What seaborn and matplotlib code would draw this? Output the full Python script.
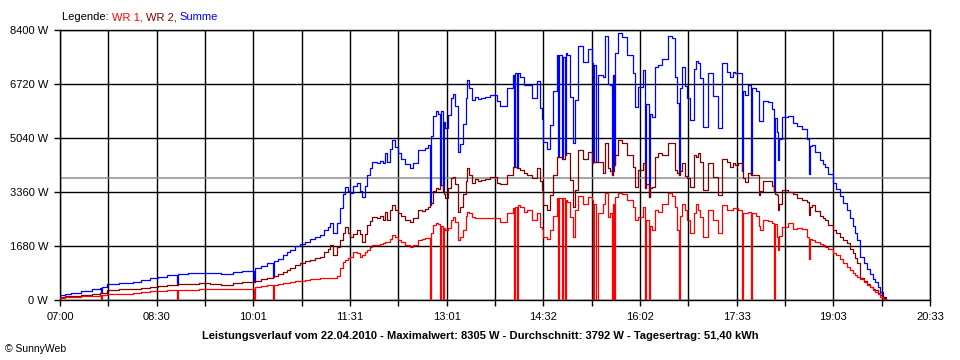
import matplotlib
matplotlib.use("Agg")
import matplotlib.pyplot as plt
import numpy as np
import pandas as pd
import seaborn as sns

# ---------------- data (minutes after 07:00, power in W) ----------------
minutes = [0, 5, 10, 20, 30, 37, 38, 39, 44, 55, 68, 76, 84, 92, 100, 109, 110, 120,
           130, 140, 150, 162, 170, 180, 181, 182, 188, 193, 199, 200, 204, 208, 212,
           215, 220, 224, 229, 234, 238, 243, 247, 250, 252, 255, 259,
           262, 264, 266, 269, 271, 274, 278, 280, 282, 285, 287, 290, 292, 296, 299,
           302, 304, 306, 308, 310, 313, 316, 319, 322, 327, 330, 335, 338, 341, 344,
           346, 347, 349, 351, 353, 355, 356, 358, 359, 360, 363, 365, 367, 369, 372,
           374, 377, 379, 380, 382, 385, 388, 391, 393, 397, 402, 408, 411, 418, 423,
           424, 425, 427, 428, 430, 434, 436, 441, 446, 449, 450, 451, 455, 458, 461,
           464, 465, 466, 469, 470, 472, 473, 474, 477, 479, 481, 484, 489, 493, 497,
           498, 499, 501, 503, 507, 509, 512, 514, 516, 517, 518, 519, 521, 525, 530,
           535, 537, 540, 545, 547, 548, 550, 551, 553, 556, 559, 563, 568, 572, 575,
           577, 578, 579, 581, 584, 586, 589, 592, 594, 596, 598, 601, 606, 610, 615,
           619, 623, 626, 629, 631, 634, 637, 638, 640, 643, 646, 647, 650, 653, 654,
           657, 662, 665, 667, 668, 670, 671, 672, 675, 678, 680, 685, 689, 693, 698,
           700, 701, 703, 706, 710, 713, 715, 718, 722, 725, 729, 732, 735, 738, 741,
           743, 745, 748, 751, 754, 757, 760, 762, 764, 766, 769, 772]

wr1 = [70, 80, 90, 110, 130, 150, 0, 170, 176, 195, 228, 245, 270, 290, 311, 0, 320, 325,
       332, 340, 350, 355, 350, 350, 0, 400, 430, 467, 0, 480, 490, 520, 540,
       560, 590, 600, 620, 640, 650, 674, 670, 670, 674, 674, 750,
       1000, 1190, 1250, 1300, 1350, 1500, 1450, 1350, 1400, 1500, 1556, 1650, 1711, 1700, 1740,
       1763, 1815, 1790, 1900, 2022, 1950, 1867, 1800, 1720, 1659, 1700, 1867, 1900, 1918, 1918,
       0, 2100, 2333, 2395, 2350, 0, 2300, 0, 2250, 2178, 2250, 2500, 2592, 2436, 1867,
       1950, 2178, 2600, 2748, 2700, 2592, 2560, 2540, 2540, 2550, 2550, 2560, 2436, 2700, 2862,
       0, 2900, 0, 2950, 2900, 2750, 2800, 2489, 2700, 2281, 2200, 1970, 1900, 2178, 2600,
       3170, 0, 3170, 0, 3170, 0, 3111, 3050, 2592, 1970, 2800, 3235, 3000, 3200, 3111,
       0, 3000, 0, 2700, 3000, 3328, 2592, 2700, 0, 3000, 0, 3200, 3328, 3300, 3111,
       2903, 2488, 2592, 2903, 0, 2500, 0, 2300, 2178, 2800, 2750, 3000, 3328, 3250, 2900,
       2178, 0, 2600, 3000, 2800, 2500, 2074, 2700, 3000, 2800, 2592, 1970, 2800, 2500, 2074,
       2966, 2800, 2800, 2850, 2862, 2800, 0, 2700, 2696, 2750, 0, 2700, 2600, 2300, 2178,
       2500, 2450, 2400, 0, 2350, 1970, 1555, 2000, 2280, 2281, 2385, 2200, 2250, 2200, 1970,
       1290, 1900, 1880, 1820, 1750, 1700, 1659, 1580, 1472, 1390, 1280, 1160, 1037, 940, 850,
       790, 726, 650, 560, 467, 400, 310, 250, 180, 104, 30, 0]

wr2 = [90, 110, 130, 160, 200, 220, 225, 225, 311, 330, 340, 380, 410, 440, 467, 480, 490, 505,
       518, 500, 470, 520, 545, 560, 565, 600, 640, 674, 720, 740, 800, 882, 940,
       1000, 1080, 1140, 1200, 1250, 1300, 1348, 1500, 1600, 1711, 1400, 1650,
       1867, 2100, 2281, 2100, 1970, 2050, 2178, 2050, 1815, 2050, 2333, 2450, 2592, 2550, 2600,
       2500, 2748, 2489, 2800, 2955, 2800, 2700, 2600, 2500, 2437, 2550, 2800, 2780, 2820, 2900,
       2950, 3010, 3400, 3484, 3450, 3578, 3578, 3400, 3300, 3170, 3500, 3796, 3827, 3600, 2748,
       2900, 3300, 3700, 4107, 3900, 3640, 3750, 3700, 3733, 3780, 3827, 3640, 3600, 3889, 4148,
       4150, 4150, 4100, 4100, 4050, 3950, 3900, 3796, 4107, 3700, 3422, 2955, 2800, 3267, 3889,
       4459, 4459, 4450, 4400, 4400, 4500, 4563, 4563, 3733, 2903, 3422, 4667, 4400, 4600, 4252,
       4300, 4300, 4300, 4300, 3940, 4874, 4120, 4000, 3900, 4000, 4200, 4500, 4978, 4870, 4511,
       4150, 3526, 4050, 4250, 3500, 3600, 3200, 3500, 3526, 4459, 4563, 4500, 4874, 4900, 4050,
       3950, 3900, 4000, 4252, 3850, 3800, 3526, 4500, 4450, 4563, 4300, 3422, 4252, 3840, 3267,
       4400, 4300, 4150, 4250, 4200, 4252, 4000, 3800, 3681, 3950, 3900, 3900, 3889, 3267, 3400,
       3700, 3700, 3550, 3400, 3300, 3267, 2800, 3000, 3422, 3422, 3350, 3300, 3170, 3110, 3048,
       2644, 2900, 2950, 2780, 2600, 2540, 2489, 2330, 2178, 2070, 1950, 1860, 1763, 1600, 1452,
       1300, 1150, 700, 600, 500, 415, 350, 300, 220, 150, 50, 10]

summe = [a + b for a, b in zip(wr1, wr2)]

y_ticks = [0, 1680, 3360, 5040, 6720, 8400]
y_tick_labels = ["0 W", "1680 W", "3360 W", "5040 W", "6720 W", "8400 W"]
x_tick_labels = ["07:00", "08:30", "10:01", "11:31", "13:01",
                 "14:32", "16:02", "17:33", "19:03", "20:33"]
day_span = 813          # minutes from 07:00 to 20:33
average = 3792

title = ("Leistungsverlauf vom 22.04.2010 - Maximalwert: 8305 W - "
         "Durchschnitt: 3792 W - Tagesertrag: 51,40 kWh")

# ---------------- plot ----------------
sns.set_theme(style="white")
plt.rcParams['font.family'] = ['Liberation Sans', 'DejaVu Sans']

df = pd.DataFrame({"minutes": minutes, "WR 1": wr1, "WR 2": wr2, "Summe": summe})

fig = plt.figure(figsize=(9.6, 3.6), dpi=100)
fig.patch.set_facecolor("white")
ax = fig.add_axes([60 / 960, 60 / 360, 870 / 960, 270 / 360])
ax.set_facecolor("white")

series = [("Summe", "#0000ff"), ("WR 2", "#800000"), ("WR 1", "#ff0000")]
for i, (col, color) in enumerate(series):
    sns.lineplot(data=df, x="minutes", y=col, ax=ax, color=color, lw=0.9,
                 drawstyle="steps-post", estimator=None, legend=False,
                 zorder=3 + i)

ax.axhline(average, color="#8c8c8c", lw=1.1, zorder=2.5)

n_int = 18
xt = [day_span * i / n_int for i in range(n_int + 1)]
ax.set_xticks(xt)
ax.set_xticklabels([x_tick_labels[i // 2] if i % 2 == 0 else "" for i in range(n_int + 1)])
ax.set_yticks(y_ticks)
ax.set_yticklabels(y_tick_labels)
ax.set_xlim(0, day_span)
ax.set_ylim(0, 8400)
ax.set_xlabel("")
ax.set_ylabel("")
ax.grid(True, color="black", lw=1.0, zorder=1)
ax.set_axisbelow(True)
for s in ax.spines.values():
    s.set_color("black")
    s.set_linewidth(1.0)
ax.tick_params(axis="both", which="major", length=4, width=1, color="black",
               labelsize=8, labelcolor="black", direction="out")
ax.tick_params(axis="y", pad=4.5)
ax.tick_params(axis="x", pad=5)
ax.tick_params(bottom=True, left=True)

# title below
fig.text(0.5, 1 - 336 / 360, title, ha="center", va="center",
         fontsize=8, fontweight="bold", color="black")
fig.text(5 / 960, 1 - 349 / 360, "© SunnyWeb", ha="left", va="center",
         fontsize=7.5, color="black")

# legend row on top
fig.canvas.draw()
renderer = fig.canvas.get_renderer()
x0 = 62
parts = [("Legende: ", "black"), ("WR 1, ", "#ff0000"), ("WR 2, ", "#800000"),
         ("Summe", "#0000ff")]
for txt, col in parts:
    t = fig.text(x0 / 960, 1 - 17 / 360, txt, ha="left", va="center",
                 fontsize=8, color=col)
    bb = t.get_window_extent(renderer=renderer)
    x0 += bb.width

fig.savefig("out.png", dpi=100, facecolor="white")
